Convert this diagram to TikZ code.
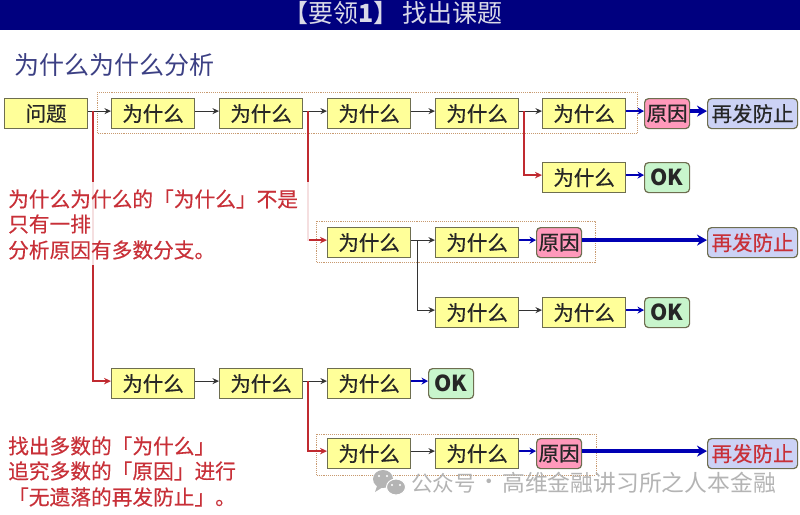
\documentclass[tikz,border=0pt]{standalone}
\usepackage{fontspec}
\setmainfont{Noto Sans CJK SC}
\newfontfamily\boxfont[FakeBold=0.6]{Noto Sans CJK SC}
\newfontfamily\notefont[FakeBold=0.3]{Noto Sans CJK SC}
\usetikzlibrary{calc,arrows.meta}
\definecolor{hdr}{HTML}{00007F}
\definecolor{hdrtxt}{HTML}{DADAE8}
\definecolor{subt}{HTML}{3C4084}
\definecolor{ylw}{HTML}{FFFF99}
\definecolor{pnk}{HTML}{FF99BB}
\definecolor{lav}{HTML}{CCD2F5}
\definecolor{grn}{HTML}{C8F5CC}
\definecolor{edge}{HTML}{6E6E50}
\definecolor{redl}{HTML}{C02A30}
\definecolor{redt}{HTML}{C83038}
\definecolor{blu}{HTML}{0000B4}
\definecolor{dots}{HTML}{C89A70}
\definecolor{wm}{HTML}{B4B4B4}
\newcommand{\fsz}[1]{\fontsize{#1}{#1}\selectfont}
\newcommand{\conn}[3]{\draw[#1] ($(#2.east)+(0,-2.5)$) -- ($(#3.west)+(0,-2.5)$);}
\newcommand{\branch}[4]{\draw[#1] ($(#2.east)+(#4,-2.5)$) |- ($(#3.west)+(0,-2.5)$);}
\tikzset{
  basebox/.style={draw=edge,line width=1.2pt,inner sep=0pt,text=black!85,font=\boxfont\fsz{20.5},anchor=north west,minimum height=30pt},
  why/.style={basebox,fill=ylw,minimum width=83pt},
  cause/.style={basebox,fill=pnk,rounded corners=4pt,minimum width=45pt},
  stopbox/.style={basebox,fill=lav,rounded corners=4pt,minimum width=90pt},
  okbox/.style={basebox,fill=grn,rounded corners=4pt,minimum width=45pt,font=\fsz{22}\bfseries},
  groupbox/.style={draw=dots,line width=.9pt,densely dotted},
  thin link/.style={draw=black!80,line width=1.2pt,-{Stealth[length=6.5pt,width=6pt]}},
  red link/.style={draw=redl,line width=1.6pt,-{Stealth[length=7pt,width=6.5pt]}},
  blue link/.style={draw=blu,line width=2.4pt,-{Stealth[length=6.5pt,width=7pt]}},
  blue big/.style={draw=blu,line width=3.4pt,-{Stealth[length=10pt,width=11pt]}},
  note/.style={text=redt,font=\notefont\fsz{20.7},anchor=west,inner sep=0pt},
}
\begin{document}
\begin{tikzpicture}[x=1pt,y=-1pt]
\useasboundingbox (0,0) rectangle (800,514);
\fill[white] (0,0) rectangle (800,514);
\fill[hdr] (0,0) rectangle (800,30);
\node[anchor=west,inner sep=0pt,text=hdrtxt,font=\fsz{25}] (title) at (283,13) {【要领\textbf{1}】};
\node[anchor=west,inner sep=0pt,text=hdrtxt,font=\fsz{25}] (title2) at (402,13) {找出课题};
\node[anchor=west,inner sep=0pt,text=subt,font=\fsz{25}] (sub) at (14,65) {为什么为什么分析};

\draw[groupbox] (97,92) rectangle (637,133);
\draw[groupbox] (316,221) rectangle (595,262);
\draw[groupbox] (316,434) rectangle (596,475);

% row 1
\node[why] (q) at (4,98) {问题};
\node[why] (a1) at (111,98) {为什么};
\node[why] (a2) at (219,98) {为什么};
\node[why] (a3) at (327,98) {为什么};
\node[why] (a4) at (435,98) {为什么};
\node[why] (a5) at (542,98) {为什么};
\node[cause] (ac) at (644,98) {原因};
\node[stopbox] (as) at (707,98) {再发防止};
% row 2
\node[why] (b1) at (542,162) {为什么};
\node[okbox] (bo) at (644,162) {OK};
% row 3
\node[why] (c1) at (327,227) {为什么};
\node[why] (c2) at (435,227) {为什么};
\node[cause] (cc) at (536,227) {原因};
\node[stopbox,text=redt] (cs) at (707,227) {再发防止};
% row 4
\node[why] (d1) at (435,297) {为什么};
\node[why] (d2) at (542,297) {为什么};
\node[okbox] (do) at (644,297) {OK};
% row 5
\node[why] (e1) at (111,368) {为什么};
\node[why] (e2) at (219,368) {为什么};
\node[why] (e3) at (327,368) {为什么};
\node[okbox] (eo) at (428,368) {OK};
% row 6
\node[why] (f1) at (327,438) {为什么};
\node[why] (f2) at (435,438) {为什么};
\node[cause] (fc) at (536,438) {原因};
\node[stopbox,text=redt] (fs) at (707,438) {再发防止};

% connectors
\conn{thin link}{q}{a1}
\conn{thin link}{a1}{a2}
\conn{thin link}{a2}{a3}
\conn{thin link}{a3}{a4}
\conn{thin link}{a4}{a5}
\conn{blue link}{a5}{ac}
\conn{blue big}{ac}{as}
\conn{blue link}{b1}{bo}
\conn{thin link}{c1}{c2}
\conn{blue link}{c2}{cc}
\conn{blue big}{cc}{cs}
\conn{thin link}{d1}{d2}
\conn{blue link}{d2}{do}
\conn{thin link}{e1}{e2}
\conn{thin link}{e2}{e3}
\conn{blue link}{e3}{eo}
\conn{thin link}{f1}{f2}
\conn{blue link}{f2}{fc}
\conn{blue big}{fc}{fs}
\branch{red link}{q}{e1}{5}
\branch{red link}{a2}{c1}{5}
\branch{red link}{a4}{b1}{5}
\branch{red link}{e2}{f1}{5}
\branch{thin link}{c1}{d1}{6}

% translucent panel behind the note
\fill[white,opacity=.85] (4,182) rectangle (309,265);
\node[note] (n1) at (8,199) {为什么为什么的「为什么」不是};
\node[note] (n2) at (8,224) {只有一排};
\node[note] (n3) at (8,250) {分析原因有多数分支。};
\node[note] (n4) at (8,446) {找出多数的「为什么」};
\node[note] (n5) at (8,471) {追究多数的「原因」进行};
\node[note] (n6) at (8,497) {「无遗落的再发防止」。};

% watermark
\fill[wm] (383,479) ellipse (10pt and 9pt);
\fill[wm] (377,486) -- (375,492) -- (383,487) -- cycle;
\fill[white] (379,476) circle (1.2pt) (387,476) circle (1.2pt);
\fill[wm,draw=white,line width=1pt] (396,487) ellipse (9.5pt and 8pt);
\fill[white] (392,485) circle (1.1pt) (400,485) circle (1.1pt);
\node[anchor=west,inner sep=0pt,text=wm,font=\fsz{21.5}] (w1) at (411,483) {公众号};
\node[anchor=center,inner sep=0pt,text=wm,font=\fsz{21.5}] (w2) at (489,484) {·};
\node[anchor=west,inner sep=0pt,text=wm,font=\fsz{22.8}] (w3) at (502,483) {高维金融讲习所之人本金融};
\end{tikzpicture}
\end{document}
